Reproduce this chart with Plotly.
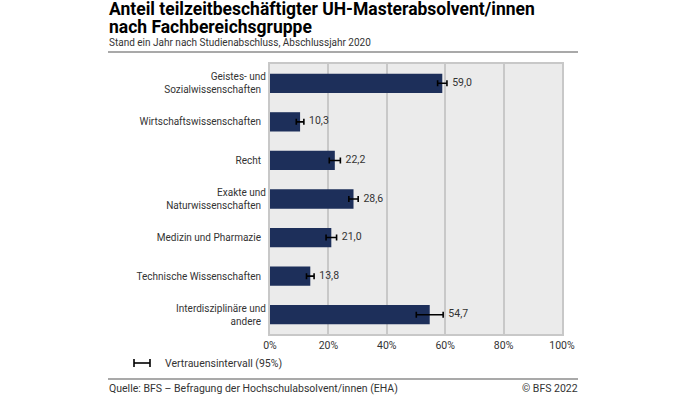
import plotly.graph_objects as go

categories = ["Geistes- und<br>Sozialwissenschaften", "Wirtschaftswissenschaften", "Recht",
              "Exakte und<br>Naturwissenschaften", "Medizin und Pharmazie",
              "Technische Wissenschaften", "Interdisziplinäre und<br>andere"]
values = [59.0, 10.3, 22.2, 28.6, 21.0, 13.8, 54.7]
ci = [1.6, 1.3, 1.9, 1.6, 1.8, 1.3, 4.6]
labels = ["59,0", "10,3", "22,2", "28,6", "21,0", "13,8", "54,7"]
ticks = [0, 20, 40, 60, 80, 100]
tick_labels = ["0%", "20%", "40%", "60%", "80%", "100%"]

FONT = "Roboto, Arial, sans-serif"
W, H = 695, 395
pl, pr, pt, pb = 270, 562, 64, 334

fig = go.Figure()
fig.add_trace(go.Bar(
    y=categories, x=values, orientation="h", width=0.5,
    marker=dict(color="#1d2f5a", line=dict(width=0)),
    error_x=dict(type="data", array=ci, color="#000000", thickness=1.6, width=3),
    hoverinfo="skip", showlegend=False,
))
fig.add_trace(go.Scatter(
    y=categories, x=[v + c for v, c in zip(values, ci)], mode="text",
    text=["  " + t for t in labels], textposition="middle right",
    textfont=dict(family=FONT, size=10.5, color="#333333"),
    showlegend=False, hoverinfo="skip", cliponaxis=False,
))
fig.update_layout(
    width=W, height=H,
    margin=dict(l=pl, r=W - pr, t=pt, b=H - pb),
    paper_bgcolor="white", plot_bgcolor="#ebebeb",
    font=dict(family=FONT, size=10.5, color="#333333"),
    xaxis=dict(range=[0, 100], tickvals=ticks, ticktext=tick_labels, showgrid=True,
               gridcolor="#c8c8c8", gridwidth=2, zeroline=False, showline=True,
               linecolor="#c8c8c8", linewidth=2, mirror=True, ticks="", ticklen=0,
               tickfont=dict(size=10.5, color="#333333"), fixedrange=True),
    yaxis=dict(autorange="reversed", showgrid=False, zeroline=False, showline=True,
               linecolor="#c8c8c8", linewidth=2, mirror=True, ticks="",
               ticksuffix="  ", tickfont=dict(size=10, color="#333333"), fixedrange=True),
    bargap=0.5,
)

def px(x):
    return (x - pl) / (pr - pl)
def py(y):
    return (pb - y) / (pb - pt)
def pann(text, x, y, size, color="#000000", xanchor="left"):
    fig.add_annotation(text=text, x=px(x), y=py(y), xref="paper", yref="paper",
                       showarrow=False, xanchor=xanchor, yanchor="middle",
                       font=dict(family=FONT, size=size, color=color), align="left")

pann("<b>Anteil teilzeitbeschäftigter UH-Masterabsolvent/innen</b>", 107, 8.5, 17.5)
pann("<b>nach Fachbereichsgruppe</b>", 107, 27, 17.5)
pann("Stand ein Jahr nach Studienabschluss, Abschlussjahr 2020", 107, 42.5, 10, "#333333")
pann("Vertrauensintervall (95%)", 163, 363, 10.5, "#333333")
pann("Quelle: BFS – Befragung der Hochschulabsolvent/innen (EHA)", 107, 388, 10.5, "#333333")
pann("© BFS 2022", 580, 388, 10.5, "#333333", xanchor="right")

shapes = [
    dict(type="line", xref="paper", yref="paper", x0=px(108), x1=px(578), y0=py(52), y1=py(52),
         line=dict(color="#555555", width=1.2)),
    dict(type="line", xref="paper", yref="paper", x0=px(108), x1=px(578), y0=py(379), y1=py(379),
         line=dict(color="#555555", width=1.2)),
    dict(type="line", xref="paper", yref="paper", x0=px(134), x1=px(150), y0=py(363), y1=py(363),
         line=dict(color="#000000", width=1.6)),
    dict(type="line", xref="paper", yref="paper", x0=px(134), x1=px(134), y0=py(359), y1=py(367),
         line=dict(color="#000000", width=1.6)),
    dict(type="line", xref="paper", yref="paper", x0=px(150), x1=px(150), y0=py(359), y1=py(367),
         line=dict(color="#000000", width=1.6)),
]
fig.update_layout(shapes=shapes)
fig.write_html("out.html", config={"displayModeBar": False},
               post_script="document.body.style.margin='0';document.body.style.overflow='hidden';")
